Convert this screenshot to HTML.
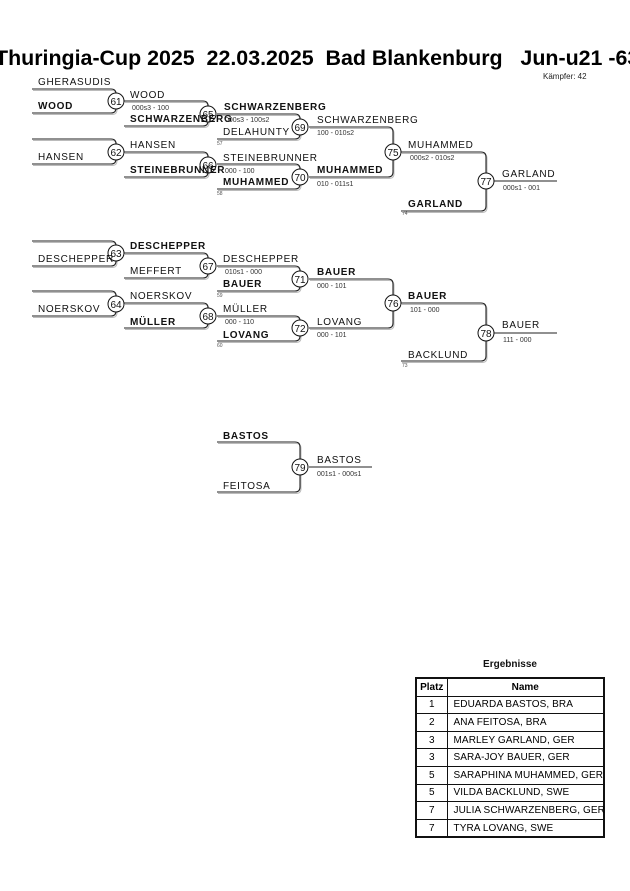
<!DOCTYPE html>
<html><head><meta charset="utf-8"><style>
html,body{margin:0;padding:0;background:#fff;}
svg{display:block;font-family:"Liberation Sans",Arial,sans-serif;}
.n{font-size:10px;letter-spacing:0.7px;fill:#111;}
.b{font-weight:bold;}
.s{font-size:7px;fill:#333;}
.t{font-size:5px;fill:#555;}
.l{fill:none;stroke:#222;stroke-width:1.1;}
.sh{fill:none;stroke:#bbb;stroke-width:1;}
.c{fill:#fff;stroke:#111;stroke-width:1;}
.cn{font-size:10px;text-anchor:middle;fill:#111;}
table{position:absolute;left:415px;top:677px;width:190px;border-collapse:collapse;font-family:"Liberation Sans",Arial,sans-serif;font-size:10px;border:2px solid #111;table-layout:fixed;}
td,th{border:1px solid #111;height:16.6px;padding:0;}
th{font-weight:bold;text-align:center;}
td.p{text-align:center;}
td.nm{padding-left:6px;white-space:nowrap;letter-spacing:0.1px;overflow:visible;}
</style></head><body>
<div style="position:relative;width:630px;height:891px;overflow:hidden;">
<svg width="630" height="891" viewBox="0 0 630 891">
<text x="-5" y="65" style="font-size:21.4px;font-weight:bold;white-space:pre;" xml:space="preserve" fill="#000">Thuringia-Cup 2025  22.03.2025  Bad Blankenburg   Jun-u21 -63</text>
<text x="543" y="79" style="font-size:8px;" fill="#222">Kämpfer: 42</text>

<g transform="translate(1,1.5)">
<path class="sh" d="M32 89H111Q116 89 116 94V108Q116 113 111 113H32"/>
<path class="sh" d="M32 139H111Q116 139 116 144V159Q116 164 111 164H32"/>
<path class="sh" d="M32 241H111Q116 241 116 246V261Q116 266 111 266H32"/>
<path class="sh" d="M32 291H111Q116 291 116 296V311Q116 316 111 316H32"/>
<path class="sh" d="M124 101H203Q208 101 208 106V121Q208 126 203 126H124"/>
<path class="sh" d="M124 152H203Q208 152 208 157V172Q208 177 203 177H124"/>
<path class="sh" d="M124 253H203Q208 253 208 258V273Q208 278 203 278H124"/>
<path class="sh" d="M124 303H203Q208 303 208 308V323Q208 328 203 328H124"/>
<path class="sh" d="M217 114H295Q300 114 300 119V134Q300 139 295 139H217"/>
<path class="sh" d="M217 164H295Q300 164 300 169V184Q300 189 295 189H217"/>
<path class="sh" d="M217 266H295Q300 266 300 271V286Q300 291 295 291H217"/>
<path class="sh" d="M217 316H295Q300 316 300 321V336Q300 341 295 341H217"/>
<path class="sh" d="M309 127H388Q393 127 393 132V172Q393 177 388 177H309"/>
<path class="sh" d="M309 279H388Q393 279 393 284V323Q393 328 388 328H309"/>
<path class="sh" d="M401 152H481Q486 152 486 157V206Q486 211 481 211H401"/>
<path class="sh" d="M401 303H481Q486 303 486 308V356Q486 361 481 361H401"/>
<path class="sh" d="M217 442H295Q300 442 300 447V487Q300 492 295 492H217"/>
</g>
<path class="l" d="M32 89H111Q116 89 116 94V108Q116 113 111 113H32"/>
<path class="l" d="M32 139H111Q116 139 116 144V159Q116 164 111 164H32"/>
<path class="l" d="M32 241H111Q116 241 116 246V261Q116 266 111 266H32"/>
<path class="l" d="M32 291H111Q116 291 116 296V311Q116 316 111 316H32"/>
<path class="l" d="M124 101H203Q208 101 208 106V121Q208 126 203 126H124"/>
<path class="l" d="M124 152H203Q208 152 208 157V172Q208 177 203 177H124"/>
<path class="l" d="M124 253H203Q208 253 208 258V273Q208 278 203 278H124"/>
<path class="l" d="M124 303H203Q208 303 208 308V323Q208 328 203 328H124"/>
<path class="l" d="M217 114H295Q300 114 300 119V134Q300 139 295 139H217"/>
<path class="l" d="M217 164H295Q300 164 300 169V184Q300 189 295 189H217"/>
<path class="l" d="M217 266H295Q300 266 300 271V286Q300 291 295 291H217"/>
<path class="l" d="M217 316H295Q300 316 300 321V336Q300 341 295 341H217"/>
<path class="l" d="M309 127H388Q393 127 393 132V172Q393 177 388 177H309"/>
<path class="l" d="M309 279H388Q393 279 393 284V323Q393 328 388 328H309"/>
<path class="l" d="M401 152H481Q486 152 486 157V206Q486 211 481 211H401"/>
<path class="l" d="M401 303H481Q486 303 486 308V356Q486 361 481 361H401"/>
<path class="l" d="M217 442H295Q300 442 300 447V487Q300 492 295 492H217"/>
<path class="l" d="M494 181H557M494 333H557M309 467H372"/>

<g>
<circle class="c" cx="116" cy="101" r="8"/><text class="cn" x="116" y="105">61</text>
<circle class="c" cx="116" cy="152" r="8"/><text class="cn" x="116" y="156">62</text>
<circle class="c" cx="116" cy="253" r="8"/><text class="cn" x="116" y="257">63</text>
<circle class="c" cx="116" cy="304" r="8"/><text class="cn" x="116" y="308">64</text>
<circle class="c" cx="208" cy="114" r="8"/><text class="cn" x="208" y="118">65</text>
<circle class="c" cx="208" cy="165" r="8"/><text class="cn" x="208" y="169">66</text>
<circle class="c" cx="208" cy="266" r="8"/><text class="cn" x="208" y="270">67</text>
<circle class="c" cx="208" cy="316" r="8"/><text class="cn" x="208" y="320">68</text>
<circle class="c" cx="300" cy="127" r="8"/><text class="cn" x="300" y="131">69</text>
<circle class="c" cx="300" cy="177" r="8"/><text class="cn" x="300" y="181">70</text>
<circle class="c" cx="300" cy="279" r="8"/><text class="cn" x="300" y="283">71</text>
<circle class="c" cx="300" cy="328" r="8"/><text class="cn" x="300" y="332">72</text>
<circle class="c" cx="393" cy="152" r="8"/><text class="cn" x="393" y="156">75</text>
<circle class="c" cx="393" cy="303" r="8"/><text class="cn" x="393" y="307">76</text>
<circle class="c" cx="486" cy="181" r="8"/><text class="cn" x="486" y="185">77</text>
<circle class="c" cx="486" cy="333" r="8"/><text class="cn" x="486" y="337">78</text>
<circle class="c" cx="300" cy="467" r="8"/><text class="cn" x="300" y="471">79</text>
</g>

<text class="n" x="38" y="85">GHERASUDIS</text>
<text class="n b" x="38" y="109">WOOD</text>
<text class="n" x="38" y="160">HANSEN</text>
<text class="n" x="38" y="262">DESCHEPPER</text>
<text class="n" x="38" y="312">NOERSKOV</text>

<text class="n" x="130" y="98">WOOD</text>
<text class="s" x="132" y="110">000s3 - 100</text>
<text class="n b" x="130" y="122">SCHWARZENBERG</text>
<text class="n" x="130" y="148">HANSEN</text>
<text class="n b" x="130" y="173">STEINEBRUNNER</text>
<text class="n b" x="130" y="249">DESCHEPPER</text>
<text class="n" x="130" y="274">MEFFERT</text>
<text class="n" x="130" y="299">NOERSKOV</text>
<text class="n b" x="130" y="325">MÜLLER</text>

<text class="n b" x="224" y="110">SCHWARZENBERG</text>
<text class="s" x="225" y="122">000s3 - 100s2</text>
<text class="n" x="223" y="135">DELAHUNTY</text>
<text class="t" x="217" y="145">57</text>
<text class="n" x="223" y="161">STEINEBRUNNER</text>
<text class="s" x="225" y="173">000 - 100</text>
<text class="n b" x="223" y="185">MUHAMMED</text>
<text class="t" x="217" y="195">58</text>
<text class="n" x="223" y="262">DESCHEPPER</text>
<text class="s" x="225" y="274">010s1 - 000</text>
<text class="n b" x="223" y="287">BAUER</text>
<text class="t" x="217" y="297">59</text>
<text class="n" x="223" y="312">MÜLLER</text>
<text class="s" x="225" y="324">000 - 110</text>
<text class="n b" x="223" y="338">LOVANG</text>
<text class="t" x="217" y="347">60</text>
<text class="n b" x="223" y="439">BASTOS</text>
<text class="n" x="223" y="489">FEITOSA</text>

<text class="n" x="317" y="123">SCHWARZENBERG</text>
<text class="s" x="317" y="135">100 - 010s2</text>
<text class="n b" x="317" y="173">MUHAMMED</text>
<text class="s" x="317" y="186">010 - 011s1</text>
<text class="n b" x="317" y="275">BAUER</text>
<text class="s" x="317" y="288">000 - 101</text>
<text class="n" x="317" y="325">LOVANG</text>
<text class="s" x="317" y="337">000 - 101</text>
<text class="n" x="317" y="463">BASTOS</text>
<text class="s" x="317" y="476">001s1 - 000s1</text>

<text class="n" x="408" y="148">MUHAMMED</text>
<text class="s" x="410" y="160">000s2 - 010s2</text>
<text class="n b" x="408" y="207">GARLAND</text>
<text class="t" x="402" y="215">74</text>
<text class="n b" x="408" y="299">BAUER</text>
<text class="s" x="410" y="312">101 - 000</text>
<text class="n" x="408" y="358">BACKLUND</text>
<text class="t" x="402" y="367">73</text>

<text class="n" x="502" y="177">GARLAND</text>
<text class="s" x="503" y="190">000s1 - 001</text>
<text class="n" x="502" y="328">BAUER</text>
<text class="s" x="503" y="342">111 - 000</text>

<text x="510" y="667" text-anchor="middle" style="font-size:10px;font-weight:bold;" fill="#111">Ergebnisse</text>
</svg>
<table>
<colgroup><col style="width:31px"><col></colgroup>
<tr><th>Platz</th><th>Name</th></tr>
<tr><td class="p">1</td><td class="nm">EDUARDA BASTOS, BRA</td></tr>
<tr><td class="p">2</td><td class="nm">ANA FEITOSA, BRA</td></tr>
<tr><td class="p">3</td><td class="nm">MARLEY GARLAND, GER</td></tr>
<tr><td class="p">3</td><td class="nm">SARA-JOY BAUER, GER</td></tr>
<tr><td class="p">5</td><td class="nm">SARAPHINA MUHAMMED, GER</td></tr>
<tr><td class="p">5</td><td class="nm">VILDA BACKLUND, SWE</td></tr>
<tr><td class="p">7</td><td class="nm">JULIA SCHWARZENBERG, GER</td></tr>
<tr><td class="p">7</td><td class="nm">TYRA LOVANG, SWE</td></tr>
</table>
</div>
</body></html>
